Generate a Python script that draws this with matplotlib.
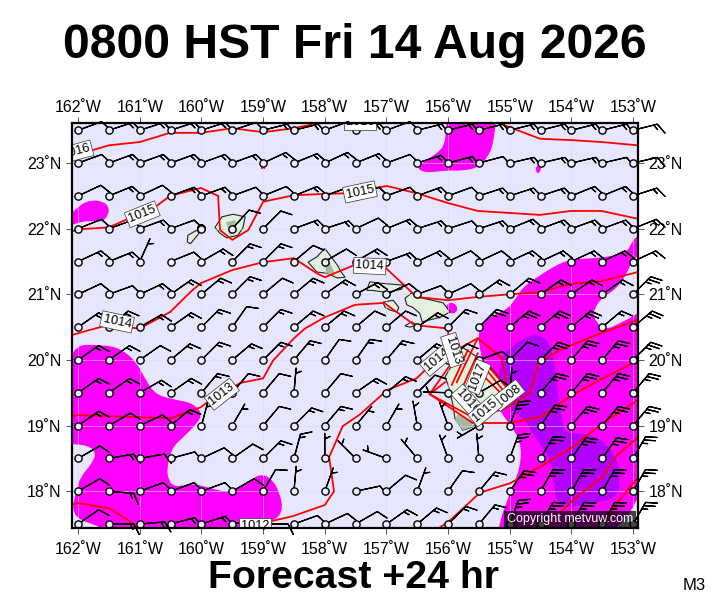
import numpy as np
import matplotlib
matplotlib.use('Agg')
import matplotlib.pyplot as plt
from matplotlib.path import Path
from matplotlib.patches import PathPatch

plt.rcParams['font.family'] = ['Liberation Sans', 'DejaVu Sans']

title = "0800 HST Fri 14 Aug 2026"
subtitle = "Forecast +24 hr"

lon_ticks = [-162, -161, -160, -159, -158, -157, -156, -155, -154, -153]
lat_ticks = [18, 19, 20, 21, 22, 23]

# wind barbs, rows from 23.5N down to 17.5N, columns 162W to 153W
grid_lons = np.arange(-162, -152.9, 0.5)
grid_lats = np.arange(23.5, 17.4, -0.5)
wind_dir = [
    [70,72,72,72,72,72,76,76,70,75,70,76,76,76,76,76,76,76,76],
    [70,70,70,70,70,70,65,68,65,68,70,72,75,75,77,77,77,77,77],
    [65,68,65,70,70,70,68,68,70,70,70,70,70,72,72,72,68,68,72],
    [68,70,70,70,72,42,45,70,72,65,68,72,72,72,68,70,70,70,68],
    [65,68,24,68,60,45,45,50,60,60,70,65,65,65,65,65,65,65,65],
    [65,70,65,55,50,45,50,50,55,62,65,70,65,55,50,55,55,55,45],
    [55,50,60,55,45,35,45,50,50,50,50,55,45,45,50,50,50,50,50],
    [55,55,55,50,45,50,45,40,35,35,40,50,50,70,45,45,40,40,45],
    [55,55,60,55,40,40,40,5,40,55,50,45,272,60,5,40,40,40,40],
    [55,60,65,50,15,30,40,45,40,40,30,350,340,240,20,35,40,40,40],
    [60,80,80,75,65,55,45,15,0,315,290,320,340,355,20,30,35,35,30],
    [60,95,70,70,70,60,30,5,20,78,50,20,35,40,35,30,30,30,30],
    [55,90,85,75,72,80,90,70,65,60,55,50,45,40,20,30,30,30,30],
]
wind_speed = [
    [10,15,15,15,15,10,15,15,10,15,10,15,15,15,15,15,15,15,15],
    [10,15,15,15,15,15,15,15,15,15,10,15,15,10,15,15,15,10,10],
    [10,15,10,15,15,10,10,15,10,10,10,15,10,15,15,15,15,15,15],
    [10,15,15,10,0,10,10,15,15,10,15,15,10,15,15,15,15,15,15],
    [15,15,5,10,15,15,15,10,10,15,15,15,10,10,15,15,15,15,15],
    [10,10,15,15,15,15,10,15,15,15,10,10,10,15,15,15,15,15,25],
    [15,15,15,15,15,10,15,15,15,10,10,15,15,25,25,25,25,15,25],
    [15,15,10,15,15,15,15,15,10,15,15,15,10,10,10,25,25,25,25],
    [15,15,15,15,15,10,10,5,10,15,15,10,5,10,5,25,25,25,25],
    [15,10,10,15,5,5,10,15,15,5,5,5,5,5,25,25,25,25,25],
    [10,15,10,10,10,10,15,15,5,5,5,5,5,5,25,25,25,25,25],
    [10,15,10,10,10,10,10,5,5,10,10,5,10,15,25,25,25,25,25],
    [10,15,15,15,15,10,10,10,10,10,15,15,15,15,25,25,25,25,25],
]

# wind speed shading outlines
north_lon = [-156.02,-155.21,-155.26,-155.36,-155.53,-155.81,-156.02,-156.34,-156.51,-156.41,-156.17,-156.04]
north_lat = [23.8,23.8,23.30,23.08,22.92,22.88,22.89,22.85,22.91,23.02,23.15,23.30]
spot1_lon = [-159.03,-158.97,-158.97,-159.03]
spot1_lat = [22.96,22.96,22.91,22.91]
spot2_lon = [-154.57,-154.50,-154.49,-154.54,-154.58]
spot2_lat = [22.96,22.96,22.90,22.83,22.88]
west_lon = [-162.3,-161.97,-161.77,-161.59,-161.50,-161.51,-161.61,-161.81,-161.97,-162.3]
west_lat = [22.05,22.37,22.44,22.41,22.33,22.21,22.10,22.12,22.10,22.0]
sw_lon = [-162.21,-161.53,-161.27,-161.04,-160.88,-160.72,-160.40,-160.14,-159.99,-160.06,-160.30,-160.48,
          -160.56,-160.54,-160.43,-160.14,-159.86,-159.59,-159.37,-159.16,-159.00,-158.84,-158.73,-158.68,
          -158.76,-158.94,-159.37,-159.42,-161.59,-161.61,-161.97,-162.08,-162.08,-162.02,-161.97,-161.77,
          -161.71,-161.84,-162.13,-162.21]
sw_lat = [20.23,20.23,20.15,19.95,19.65,19.46,19.39,19.34,19.19,19.04,18.82,18.66,
          18.37,18.17,18.06,18.12,18.05,17.98,18.05,18.21,18.26,18.17,17.97,17.74,
          17.59,17.53,17.51,17.33,17.33,17.45,17.56,17.68,17.83,18.02,18.21,18.43,
          18.59,18.70,18.72,18.72]
east_lon = [-152.92,-153.02,-153.10,-153.54,-153.98,-154.24,-154.51,-154.79,-154.88,-155.05,-155.36,-155.48,
            -155.52,-155.40,-155.21,-154.88,-154.80,-154.88,-155.05,-155.19,-155.19,-152.73,-152.73,-153.02,
            -153.22,-153.46,-153.65,-153.62,-153.49,-153.26,-153.10,-153.00,-152.73,-152.73]
east_lat = [21.90,21.80,21.63,21.55,21.54,21.45,21.29,21.11,20.96,20.76,20.65,20.50,
            20.30,19.84,19.27,18.88,18.58,18.21,17.86,17.44,17.25,17.25,20.84,20.65,
            20.56,20.45,20.64,20.80,20.96,21.09,21.32,21.55,21.70,22.0]
purple_lon = [-154.54,-154.35,-154.27,-154.24,-154.16,-154.11,-153.86,-153.54,-153.26,-153.20,-153.26,-153.59,
              -154.19,-154.27,-154.32,-154.63,-154.79,-155.00,-155.11,-155.19,-155.11,-154.84]
purple_lat = [20.41,20.26,19.95,19.59,19.19,18.88,18.88,18.82,18.52,18.17,17.91,17.82,
              17.74,17.97,18.47,18.88,19.13,19.23,19.59,19.80,20.10,20.30]
maui_spot_lon = [-156.00,-155.90,-155.84,-155.88,-155.98,-156.04]
maui_spot_lat = [20.87,20.87,20.79,20.71,20.71,20.79]

# islands
kauai_lon = [-159.78,-159.67,-159.49,-159.29,-159.33,-159.41,-159.59,-159.70]
kauai_lat = [22.02,22.18,22.22,22.18,22.01,21.90,21.86,21.93]
niihau_lon = [-160.23,-160.22,-160.07,-160.04,-160.10,-160.18]
niihau_lat = [21.80,21.90,21.98,21.93,21.86,21.77]
oahu_lon = [-158.27,-158.13,-158.00,-157.88,-157.80,-157.72,-157.67,-157.80,-157.96,-158.13]
oahu_lat = [21.49,21.57,21.70,21.55,21.45,21.32,21.26,21.25,21.32,21.34]
molokai_lon = [-157.27,-157.11,-156.73,-156.75,-156.99,-157.24,-157.32]
molokai_lat = [21.19,21.17,21.14,21.08,21.03,21.06,21.06]
lanai_lon = [-157.06,-156.89,-156.80,-156.83,-156.94,-157.02]
lanai_lat = [20.88,20.91,20.80,20.73,20.76,20.80]
maui_lon = [-156.70,-156.59,-156.51,-156.26,-156.08,-155.97,-156.13,-156.42,-156.46,-156.57,-156.67]
maui_lat = [20.94,21.02,20.96,20.91,20.87,20.73,20.65,20.58,20.71,20.80,20.84]
kahoolawe_lon = [-156.70,-156.59,-156.51,-156.62]
kahoolawe_lat = [20.52,20.58,20.53,20.50]
hawaii_lon = [-155.78,-155.57,-155.29,-155.05,-154.92,-155.03,-155.27,-155.53,-155.60,-155.76,-155.89,-155.92,
              -156.00,-156.05,-155.97,-155.89]
hawaii_lat = [20.20,20.07,19.87,19.59,19.49,19.31,19.20,19.05,18.98,18.93,19.11,19.31,
              19.62,19.74,19.87,20.04]
hawaii_south_lon = [-155.85,-155.62,-155.60,-155.76,-155.89]
hawaii_south_lat = [19.17,19.08,18.98,18.93,19.08]
kauai_mid_lon = [-159.60,-159.45,-159.42,-159.55]
kauai_mid_lat = [22.10,22.13,21.95,21.92]
oahu_mid_lon = [-158.05,-157.95,-157.83,-157.95]
oahu_mid_lat = [21.50,21.55,21.30,21.30]

# isobars, kinked like the coarse model grid
isobars = [
    ([-162.10,-161.72,-161.50,-161.00,-160.51,-160.01,-159.50,-159.00,-158.50,-158.00],
     [23.09,23.21,23.27,23.32,23.46,23.46,23.53,23.47,23.53,23.63]),
    ([-155.21,-154.51,-154.01,-153.51,-152.92],
     [23.62,23.37,23.35,23.32,23.27]),
    ([-162.10,-162.00,-161.50,-161.24,-160.75,-160.51,-160.01,-159.73,-159.70,-159.50,-159.24,-159.00,-158.50,
      -158.00,-157.64,-157.19,-156.99,-156.51,-156.00,-155.52,-155.01,-154.51,-154.01,-153.51,-152.92],
     [21.96,21.99,22.02,22.13,22.33,22.50,22.62,22.50,21.98,21.83,21.98,22.41,22.51,
      22.53,22.54,22.62,22.65,22.54,22.39,22.27,22.24,22.21,22.27,22.27,22.15]),
    ([-162.10,-161.84,-161.56,-161.00,-160.51,-160.15,-160.01,-159.50,-159.00,-158.50,-158.13,-158.00,-157.51,
      -157.02,-156.51,-156.00,-155.52,-155.01,-154.51,-154.01,-153.51,-152.92],
     [20.38,20.45,20.52,20.48,20.73,21.06,21.17,21.37,21.49,21.55,21.32,21.26,21.45,
      21.41,20.96,20.91,20.96,21.00,21.03,21.16,21.20,21.34]),
    ([-162.10,-162.00,-160.51,-160.01,-159.86,-159.37,-159.00,-158.84,-158.50,-158.32,-158.00,-157.51,-157.04,
      -156.54,-156.00,-155.99,-155.97,-156.30,-155.60,-155.00,-154.48,-154.00,-153.49,-152.92],
     [19.14,19.16,19.11,19.28,19.39,19.65,19.72,19.99,20.33,20.48,20.65,20.84,20.87,
      20.53,20.48,20.03,19.92,19.48,19.04,19.04,19.14,19.46,19.72,19.99]),
    ([-161.04,-161.19,-161.50,-162.00,-162.10],
     [17.44,17.56,17.74,17.82,17.80]),
    ([-159.13,-158.89,-158.52,-158.00,-157.85,-157.93,-157.71,-157.43,-156.99,-156.51,-156.26,-155.52,-155.13,
      -155.05,-155.00],
     [17.48,17.54,17.62,17.79,18.00,18.52,18.99,19.17,19.54,19.72,19.95,20.33,20.03,
      19.65,19.51]),
    ([-156.30,-155.57,-155.03,-154.67,-154.54,-154.19,-153.49,-152.92],
     [19.48,19.11,19.28,19.49,19.95,20.15,20.42,20.61]),
    ([-156.15,-156.00,-155.48,-155.00,-154.51,-153.99,-153.49,-152.92],
     [17.44,17.53,17.98,18.12,18.37,18.67,19.04,19.39]),
    ([-154.43,-153.98,-153.51,-153.26,-152.92],
     [17.44,17.86,18.21,18.55,18.82]),
    ([-153.51,-153.25,-152.92],
     [17.44,17.83,18.21]),
    ([-155.52,-155.86], [20.33,19.66]),
    ([-155.52,-155.81], [20.10,19.49]),
    ([-155.68,-155.94], [20.15,19.62]),
    ([-155.44,-155.16], [19.77,19.51]),
    ([-155.37,-155.11], [19.84,19.54]),
    ([-155.32,-155.06], [19.87,19.59]),
    ([-156.30,-156.05], [19.48,19.66]),
]

label_text = ["1016","1016","1015","1015","1014","1014","1013","1012","1008","1014","1013","1017","1016","1015"]
label_lon = [-162.03,-157.43,-160.96,-157.43,-161.37,-157.27,-159.67,-159.13,-155.03,-156.18,-155.92,-155.52,-155.68,-155.40]
label_lat = [23.17,23.62,22.22,22.56,20.58,21.43,19.48,17.47,19.46,20.00,20.15,19.74,19.37,19.23]
label_rot = [15,0,22,12,-12,-3,38,0,38,40,-72,68,-48,40]


def smooth_patch(lons, lats, **kw):
    # closed outline rounded with quadratic segments
    pts = np.column_stack([lons, lats])
    mids = (pts + np.roll(pts, -1, axis=0)) / 2
    verts = [mids[-1]]
    codes = [Path.MOVETO]
    for p, m in zip(pts, mids):
        verts += [p, m]
        codes += [Path.CURVE3, Path.CURVE3]
    return PathPatch(Path(verts, codes), **kw)


fig = plt.figure(figsize=(7.11, 6), dpi=100)
ax = fig.add_axes([72 / 711, 1 - 528 / 600, 566 / 711, 405 / 600])
ax.set_xlim(-162.10, -152.92)
ax.set_ylim(17.44, 23.61)
ax.set_facecolor('#E6E6FF')

for lons, lats in [(north_lon, north_lat), (west_lon, west_lat), (sw_lon, sw_lat), (east_lon, east_lat),
                   (spot2_lon, spot2_lat), (maui_spot_lon, maui_spot_lat)]:
    ax.add_patch(smooth_patch(lons, lats, fc='#FF00FF', ec='none', zorder=1))
ax.fill(spot1_lon, spot1_lat, color='#FF00FF', lw=0, zorder=1)
ax.add_patch(smooth_patch(purple_lon, purple_lat, fc='#B400FF', ec='none', zorder=1.2))

ax.set_xticks(lon_ticks)
ax.set_yticks(lat_ticks)
ax.grid(True, color='#DADAEA', lw=0.4, zorder=1.5)
ax.set_axisbelow(False)
for line in ax.get_xgridlines() + ax.get_ygridlines():
    line.set_zorder(1.5)

for lons, lats in [(kauai_lon, kauai_lat), (niihau_lon, niihau_lat), (oahu_lon, oahu_lat), (molokai_lon, molokai_lat),
                   (lanai_lon, lanai_lat), (maui_lon, maui_lat), (kahoolawe_lon, kahoolawe_lat),
                   (hawaii_lon, hawaii_lat)]:
    ax.fill(lons, lats, fc='#E2F2DC', ec='#222222', lw=0.8, zorder=2)
for lons, lats in [(kauai_mid_lon, kauai_mid_lat), (oahu_mid_lon, oahu_mid_lat), (hawaii_south_lon, hawaii_south_lat)]:
    ax.fill(lons, lats, fc='#A4B8A0', ec='none', zorder=2.1)

for lons, lats in isobars:
    ax.plot(lons, lats, color='#FF0000', lw=1.3, zorder=3)

lon2d, lat2d = np.meshgrid(grid_lons, grid_lats)
wdir = np.radians(np.array(wind_dir, dtype=float))
wspd = np.array(wind_speed, dtype=float)
u = -wspd * np.sin(wdir)
v = -wspd * np.cos(wdir)
# barb size goes with length squared
ax.barbs(lon2d, lat2d, u, v, length=6.0, pivot='tip', linewidth=0.9, color='black',
         sizes={'height': 0.42, 'width': 0.42, 'spacing': 0.15}, clip_on=False, zorder=4)
ax.scatter(lon2d, lat2d, s=27, facecolor='#EEEEFF', edgecolor='black', linewidth=1.0, clip_on=False, zorder=5)

for txt, lo, la, rot in zip(label_text, label_lon, label_lat, label_rot):
    ax.text(lo, la, txt, fontsize=9.2, rotation=rot, rotation_mode='anchor', ha='center', va='center',
            clip_on=True, zorder=6,
            bbox=dict(boxstyle='square,pad=0.15', fc='white', ec='#333333', lw=0.5))

for side in ax.spines.values():
    side.set_linewidth(1.6)
    side.set_zorder(7)

ax.set_xticklabels(["%d\u02daW" % abs(t) for t in lon_ticks])
ax.set_yticklabels(["%d\u02daN" % t for t in lat_ticks])
ax.tick_params(axis='both', which='both', right=True, labelright=True,
               direction='out', length=4.5, width=0.7, color='#555555', labelsize=11.5, pad=3, grid_alpha=1)
ax.tick_params(axis='x', pad=5.5)
top = ax.secondary_xaxis('top')
top.set_xticks(lon_ticks, ["%d\u02daW" % abs(t) for t in lon_ticks])
top.tick_params(direction='out', length=4.5, width=0.7, color='#555555', labelsize=11.5, pad=1)
top.spines['top'].set_visible(False)

fig.text(355 / 711, 1 - 45 / 600, title, fontsize=34.7, fontweight='bold', ha='center', va='center')
fig.text(354 / 711, 1 - 578 / 600, subtitle, fontsize=28.3, fontweight='bold', ha='center', va='center')
fig.text(694 / 711, 1 - 585 / 600, "M3", fontsize=12, ha='center', va='center')
fig.text(570 / 711, 1 - 519 / 600, "Copyright metvuw.com", fontsize=9, color='white', ha='center', va='center',
         zorder=10, bbox=dict(boxstyle='square,pad=0.2', fc='black', ec='none', alpha=0.72))

fig.savefig('out.png', dpi=100)
